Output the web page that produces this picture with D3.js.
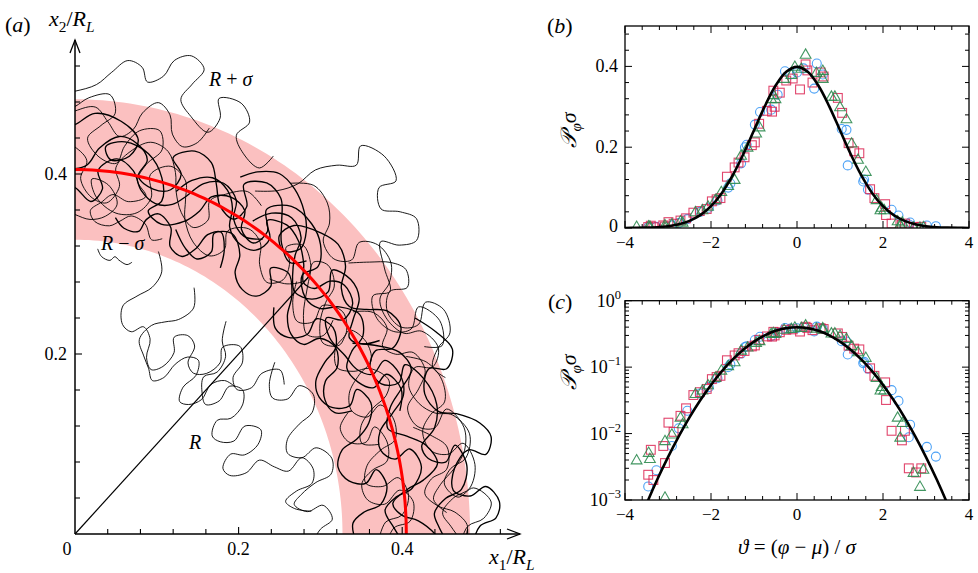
<!DOCTYPE html>
<html><head><meta charset="utf-8">
<script src="https://cdn.jsdelivr.net/npm/d3@7"></script>
<style>
body{margin:0;background:#fff}
text{font-family:"Liberation Serif","Times New Roman",serif;fill:#000}
</style>
</head><body>
<svg id="chart" width="978" height="573"></svg>
<script>
// ---------------- DATA ----------------
// Panel (a): mean radius R and spread sigma (in units of R_L)
const bandR = 0.405;
const bandSigma = 0.078;
const aTickLabels = ["0.2", "0.4"];
const aTickValues = [0.2, 0.4];

// Trajectories, as [angle in degrees, radius]
const traj01 = [[92,.452],[90,.455],[87,.468],[83,.462],[80,.445],[81,.425],[84,.418],[85,.432],[82,.44],[78,.432],[75,.41],[74,.385],[76,.37],[73,.36],[69,.372],[67,.39],[66,.41],[63,.42],[60,.415],[59,.395],[56,.39],[55,.41],[57,.43],[54,.45],[50,.45],[47,.44],[45,.42],[46,.40],[43,.385],[40,.39],[38,.41],[35,.425],[32,.415],[31,.395],[29,.38],[26,.385],[24,.40],[25,.42],[22,.43],[19,.42]];
const traj02 = [[92,.36],[90,.355],[87,.35],[84,.355],[82,.37],[84,.39],[87,.395],[86,.375],[82,.36],[78,.365],[76,.385],[77,.41],[74,.425],[71,.415],[70,.395],[69,.375],[66,.355],[62,.35],[60,.365],[61,.385],[58,.40],[55,.395],[53,.375],[50,.365],[48,.38],[49,.40],[51,.41],[49,.425],[46,.415],[44,.395],[41,.37],[38,.36],[36,.375],[37,.395]];
const traj03 = [[72,.40],[70,.418],[67,.43],[64,.425],[62,.41],[61,.39],[58,.38],[55,.385],[54,.405],[56,.42],[53,.43],[50,.425],[47,.41],[45,.395],[43,.40],[42,.42],[40,.43],[37,.425],[36,.405],[38,.39],[35,.38],[31,.385],[28,.39],[26,.405],[27,.425],[24,.435],[21,.43],[19,.41],[17,.39],[14,.385],[12,.40],[13,.42],[10,.43],[7,.415],[6,.395],[4,.38],[1,.39],[-2,.405]];
const traj04 = [[56,.47],[53,.485],[50,.48],[48,.465],[47,.445],[44,.44],[42,.455],[43,.475],[41,.49],[38,.49],[36,.475],[35,.455],[32,.45],[29,.46],[28,.48],[25,.49],[23,.475],[24,.455],[22,.44],[19,.445],[17,.46],[16,.48],[13,.495],[10,.485],[9,.465],[7,.455],[5,.47],[6,.49],[4,.51],[2,.50],[1,.48],[-2,.47]];
const traj05 = [[46,.35],[43,.335],[40,.34],[38,.36],[39,.38],[36,.39],[33,.38],[32,.36],[30,.34],[27,.335],[24,.345],[23,.365],[25,.38],[22,.39],[19,.38],[17,.36],[16,.34],[13,.33],[10,.34],[9,.36],[11,.375],[8,.385],[5,.375],[4,.355],[2,.34],[-2,.345]];
const traj06 = [[72,.33],[70,.31],[71,.29],[74,.275],[77,.26],[76,.24],[73,.235],[70,.245],[67,.235],[66,.215],[63,.205],[60,.215],[59,.235],[61,.25],[58,.26],[55,.255],[54,.235],[51,.23],[48,.24],[47,.26],[49,.275],[46,.29],[43,.28],[42,.26],[39,.255],[37,.27],[38,.29],[36,.31],[33,.305]];
const traj07 = [[52,.30],[50,.28],[47,.27],[46,.25],[48,.235],[45,.22],[42,.215],[40,.23],[41,.25],[38,.26],[35,.25],[34,.23],[36,.215],[33,.20],[30,.205],[28,.22],[30,.24],[27,.255],[24,.245],[23,.225],[25,.21],[22,.195],[19,.20],[18,.22],[20,.24],[17,.255],[15,.27],[17,.29],[14,.30],[11,.295],[10,.275],[8,.26],[6,.27],[5,.29]];
const traj08 = [[60,.44],[57,.455],[55,.475],[54,.50],[52,.52],[50,.535],[51,.555],[48,.565],[45,.555],[46,.535],[44,.52],[42,.535],[40,.545],[38,.53],[39,.51],[41,.495],[38,.48],[35,.47],[36,.45],[33,.44],[30,.45],[29,.47],[31,.49],[28,.505],[25,.495],[26,.475]];
const traj09 = [[92,.49],[90,.492],[87,.50],[85,.515],[83,.53],[81,.525],[80,.51],[78,.52],[77,.54],[75,.55],[73,.54],[74,.52],[75,.50],[73,.485],[70,.475],[69,.495],[70,.515],[67,.52],[65,.505],[66,.485],[64,.47],[61,.465],[60,.485]];
const traj10 = [[30,.48],[27,.495],[24,.505],[22,.49],[23,.47],[20,.455],[17,.465],[16,.485],[14,.51],[12,.52],[10,.51],[11,.49],[9,.47],[6,.465],[5,.485],[6,.505],[4,.52],[2,.515],[1,.495],[-2,.485]];
const traj11 = [[92,.47],[90,.475],[88,.485],[85,.49],[84,.47],[86,.455],[88,.44],[86,.42],[83,.415],[82,.435],[80,.455],[77,.46],[76,.44],[78,.42],[79,.40],[77,.385],[80,.375],[83,.38],[85,.37],[87,.36],[86,.348],[83,.345],[81,.352],[79,.36],[76,.355],[74,.34],[72,.345]];
const traj12 = [[85,.318],[84,.310],[82,.307],[81,.312],[80,.309],[78,.306],[77,.31]];
const traj13 = [[63,.445],[61,.46],[58,.472],[55,.468],[52,.455],[50,.44],[49,.42],[51,.405],[53,.415],[52,.435],[48,.45],[45,.455],[42,.445],[40,.425],[37,.42],[35,.435],[33,.455],[30,.46],[28,.44],[29,.42],[27,.405],[24,.41],[23,.43],[25,.445],[22,.46],[18,.465],[15,.455],[13,.435],[11,.44],[10,.46],[12,.475],[9,.485],[6,.475],[5,.455],[3,.44],[1,.445],[-2,.46]];
const traj14 = [[38,.31],[35,.29],[32,.285],[30,.30],[31,.32],[28,.33],[25,.32],[24,.30],[22,.28],[19,.275],[17,.29],[18,.31],[15,.325],[12,.32],[11,.30],[9,.28],[7,.27],[5,.285],[6,.305],[3,.315],[1,.30],[-2,.29]];
const traj15 = [[92,.405],[88,.41],[86,.43],[83,.445],[80,.44],[78,.425],[79,.405],[76,.395],[73,.40],[72,.42],[74,.435],[71,.45],[68,.445],[66,.425],[64,.405],[61,.40],[60,.42],[62,.44],[59,.455],[56,.45],[54,.43],[52,.41],[49,.40],[47,.415]];
const traj16 = [[50,.37],[47,.38],[45,.40],[46,.42],[44,.43],[41,.42],[40,.40],[38,.38],[35,.37],[33,.385],[34,.405],[31,.415],[28,.41],[27,.39],[25,.37],[22,.365],[20,.38],[21,.40],[18,.41],[15,.405],[14,.385],[12,.365],[9,.36],[8,.38],[9,.40],[6,.41],[3,.40],[2,.38],[-2,.37]];
const traj17 = [[70,.36],[67,.345],[64,.34],[62,.355],[63,.375],[60,.385],[57,.37],[56,.35],[53,.34],[50,.345],[49,.365],[51,.38],[48,.39],[45,.375],[43,.355],[40,.345],[37,.35],[36,.37],[33,.38],[30,.37],[29,.35],[26,.34],[23,.345],[22,.365]];
const traj18 = [[26,.45],[24,.47],[21,.48],[18,.475],[17,.455],[15,.44],[12,.445],[11,.465],[12,.485],[9,.495],[6,.485],[5,.465],[3,.45],[1,.46],[-2,.48]];
const traj19 = [[62,.31],[60,.29],[62,.27],[65,.26],[68,.25],[70,.23],[67,.215],[64,.205],[61,.195],[58,.205],[57,.225],[55,.24],[52,.245],[50,.23],[51,.21],[49,.195],[46,.20],[44,.215],[45,.235],[43,.25],[40,.255]];
const traj20 = [[42,.45],[40,.47],[38,.49],[36,.50],[34,.49],[35,.47],[33,.455],[30,.46],[29,.48],[31,.50],[29,.515],[26,.51],[25,.49],[23,.475],[21,.485]];
const traj21 = [[93,.39],[90,.385],[87,.37],[85,.385],[86,.405],[83,.42],[80,.41],[78,.39],[75,.38],[72,.385],[70,.40],[68,.42],[65,.43],[62,.42],[61,.40],[58,.39],[55,.40]];
const traj22 = [[93,.44],[90,.43],[88,.415],[89,.395],[87,.375],[84,.37],[82,.39],[83,.41],[81,.43],[78,.445],[75,.44],[73,.42],[72,.40],[70,.38],[67,.37],[65,.385],[66,.405],[64,.42],[61,.435],[58,.43]];
const traj23 = [[32,.40],[30,.42],[27,.445],[24,.45],[22,.43],[20,.41],[17,.40],[15,.42],[13,.44],[10,.45],[8,.43],[7,.41],[5,.39],[3,.40],[2,.42],[0,.44],[-2,.45]];
const traj24 = [[22,.36],[20,.345],[17,.35],[16,.37],[18,.385],[15,.395],[12,.39],[11,.37],[9,.355],[6,.36],[5,.38],[7,.40],[5,.415],[2,.41],[1,.39],[-2,.38]];
const traj25 = [[58,.41],[56,.43],[53,.44],[50,.43],[49,.41],[47,.39],[45,.38],[42,.39],[41,.41],[43,.43],[40,.44],[37,.435],[35,.415],[33,.40],[31,.41],[30,.43]];
const traj26 = [[46,.39],[44,.37],[41,.36],[39,.375],[40,.395],[37,.41],[34,.40],[33,.38],[30,.37],[28,.385],[27,.405],[24,.42],[22,.41],[21,.39],[19,.37],[16,.365],[15,.385]];
const traj27 = [[36,.42],[34,.44],[31,.445],[29,.43],[27,.44],[26,.46],[23,.465],[21,.45],[19,.43],[16,.435],[15,.455],[17,.475],[14,.49],[11,.485],[9,.47],[7,.45],[5,.44],[3,.455]];
const traj28 = [[93,.46],[90,.47],[87,.475],[85,.46],[83,.445],[81,.455],[80,.475],[78,.49],[76,.48],[75,.46],[73,.45],[71,.46],[70,.48]];
const traj29 = [[82,.355],[80,.345],[77,.345],[76,.36],[74,.37],[71,.36],[70,.34],[67,.335],[65,.35],[64,.37],[62,.38],[60,.365],[59,.345]];
const traj30 = [[16,.43],[14,.45],[12,.465],[9,.46],[8,.44],[6,.43],[4,.445],[3,.465],[1,.48],[-2,.47]];
const trajectories = [traj01,traj02,traj03,traj04,traj05,traj06,traj07,traj08,traj09,traj10,traj11,traj12,traj13,traj14,traj15,traj16,traj17,traj18,traj19,traj20,traj21,traj22,traj23,traj24,traj25,traj26,traj27,traj28,traj29,traj30];
const trajWidths = [1.35,0.9,1.35,0.9,1.35,0.9,0.9,0.9,0.9,1.35,0.9,0.9,1.35,0.9,1.35,0.9,1.35,0.9,0.9,0.9,1.35,0.9,1.35,0.9,1.35,0.9,0.9,0.9,1.35,0.9];

// Panels (b),(c): normalised PDF samples [theta, P*sigma]
const redSquares = [[-3.46,.0024],[-3.40,.0057],[-3.34,.0020],[-3.11,.0065],[-3.07,.0036],[-2.99,.0146],[-2.87,.0106],[-2.71,.0185],[-2.58,.024],[-2.41,.038],[-2.26,.042],[-2.10,.047],[-1.98,.066],[-1.87,.071],[-1.78,.074],[-1.63,.127],[-1.45,.150],[-1.36,.162],[-1.22,.175],[-1.05,.205],[-0.98,.212],[-0.88,.258],[-0.70,.290],[-0.58,.288],[-0.52,.300],[-0.55,.340],[-0.40,.335],[-0.25,.365],[-0.10,.370],[0.07,.343],[0.20,.405],[0.24,.390],[0.36,.360],[0.55,.385],[0.62,.375],[0.95,.322],[1.05,.285],[1.20,.210],[1.33,.190],[1.45,.185],[1.70,.096],[1.80,.074],[2.05,.059],[2.07,.032],[2.20,.011],[2.44,.0079],[2.51,.011],[2.60,.0030],[2.77,.0026],[2.89,.0030]];
const blueCircles = [[-3.46,.0016],[-3.27,.0028],[-2.91,.0065],[-2.75,.012],[-2.55,.022],[-2.25,.040],[-2.05,.050],[-1.85,.068],[-1.60,.100],[-1.55,.110],[-1.30,.160],[-1.21,.200],[-1.17,.206],[-0.98,.256],[-0.86,.287],[-0.60,.293],[-0.45,.330],[-0.28,.388],[-0.15,.380],[0.00,.385],[0.15,.395],[0.40,.345],[0.46,.407],[0.60,.380],[1.04,.245],[1.15,.243],[1.18,.155],[1.54,.115],[1.56,.120],[1.65,.095],[2.20,.045],[2.36,.031],[2.63,.0136],[2.60,.0088],[3.02,.0063],[3.23,.0045]];
const greenTriangles = [[-3.73,.0040],[-3.45,.0052],[-3.42,.0042],[-3.07,.0011],[-3.07,.0078],[-2.91,.0098],[-2.71,.0175],[-2.66,.014],[-2.36,.040],[-2.20,.045],[-2.07,.054],[-1.90,.070],[-1.76,.090],[-1.60,.105],[-1.45,.120],[-1.30,.180],[-1.15,.200],[-0.95,.235],[-0.87,.250],[-0.60,.320],[-0.50,.320],[-0.55,.330],[-0.30,.370],[-0.13,.380],[-0.05,.400],[0.10,.395],[0.20,.430],[0.45,.385],[0.60,.370],[0.60,.390],[0.80,.326],[0.88,.326],[1.00,.300],[1.15,.270],[1.27,.210],[1.42,.170],[1.60,.140],[1.85,.070],[1.94,.045],[1.97,.051],[2.03,.045],[2.34,.0176],[2.45,.0146],[2.40,.0088],[2.71,.0026],[2.86,.0016],[2.94,.0029]];
// Gaussian reference curve (standard normal), tabulated
const gaussTheta = [-4,-3.75,-3.5,-3.25,-3,-2.75,-2.5,-2.25,-2,-1.75,-1.5,-1.25,-1,-0.75,-0.5,-0.25,0,0.25,0.5,0.75,1,1.25,1.5,1.75,2,2.25,2.5,2.75,3,3.25,3.5,3.75,4];
const gaussP = [0.00013,0.00035,0.00087,0.00203,0.00443,0.00909,0.01753,0.03174,0.05399,0.08628,0.12952,0.18265,0.24197,0.30114,0.35207,0.38667,0.39894,0.38667,0.35207,0.30114,0.24197,0.18265,0.12952,0.08628,0.05399,0.03174,0.01753,0.00909,0.00443,0.00203,0.00087,0.00035,0.00013];
const thetaTicks = [-4,-2,0,2,4];
const linTicks = [0,0.2,0.4];
const logTicks = [1e-3,1e-2,1e-1,1];
const logTickExp = ["−3","−2","−1","0"];

// ---------------- DRAW ----------------
const svg = d3.select("#chart");
const defs = svg.append("defs");
const rad = Math.PI/180;
const toXY = p => [p[1]*Math.cos(p[0]*rad), p[1]*Math.sin(p[0]*rad)];

// ===== Panel (a) =====
const xa = d3.scaleLinear().domain([0,0.55]).range([75, 75+0.55*818]);
const ya = d3.scaleLinear().domain([0,0.55]).range([534, 534-0.55*900]);
const ga = svg.append("g");
defs.append("clipPath").attr("id","clipA")
  .append("rect").attr("x",xa(0)).attr("y",0).attr("width",978).attr("height",ya(0));

const angles = d3.range(0, 90.01, 1);
const lineA = d3.line().x(d=>xa(d[0])).y(d=>ya(d[1]));
const outer = angles.map(a=>toXY([a,bandR+bandSigma]));
const inner = angles.slice().reverse().map(a=>toXY([a,bandR-bandSigma]));
ga.append("path").attr("d", lineA(outer.concat(inner))+"Z")
  .attr("fill","#fbc0c0").attr("stroke","none");

const trajLine = d3.line().x(d=>xa(d[0])).y(d=>ya(d[1])).curve(d3.curveCatmullRom.alpha(0.5));
const gt = ga.append("g").attr("clip-path","url(#clipA)");
trajectories.forEach((t,i)=>{
  gt.append("path").attr("d", trajLine(t.map(toXY)))
    .attr("fill","none").attr("stroke","#000").attr("stroke-width",trajWidths[i])
    .attr("stroke-linejoin","round");
});

ga.append("line").attr("x1",xa(0)).attr("y1",ya(0))
  .attr("x2",xa(bandR*Math.cos(45*rad))).attr("y2",ya(bandR*Math.sin(45*rad)))
  .attr("stroke","#000").attr("stroke-width",1.2);
ga.append("path").attr("d", lineA(angles.map(a=>toXY([a,bandR]))))
  .attr("fill","none").attr("stroke","#ff0000").attr("stroke-width",3);

const axA = ga.append("g").attr("stroke","#000").attr("fill","none");
axA.append("line").attr("x1",xa(0)).attr("y1",ya(0)).attr("x2",520).attr("y2",ya(0)).attr("stroke-width",1.5);
axA.append("line").attr("x1",xa(0)).attr("y1",ya(0)).attr("x2",xa(0)).attr("y2",40).attr("stroke-width",1.5);
axA.append("path").attr("d",`M${xa(0)-5},53L${xa(0)},40L${xa(0)+5},53`).attr("stroke-width",1.3);
axA.append("path").attr("d",`M507,${ya(0)-5}L520,${ya(0)}L507,${ya(0)+5}`).attr("stroke-width",1.3);
d3.range(0.04, 0.53, 0.04).forEach(v=>{
  const L = (Math.abs(v-0.2)<1e-6||Math.abs(v-0.4)<1e-6)?7:5;
  axA.append("line").attr("x1",xa(v)).attr("x2",xa(v)).attr("y1",ya(0)).attr("y2",ya(0)-L).attr("stroke-width",1.1);
  axA.append("line").attr("y1",ya(v)).attr("y2",ya(v)).attr("x1",xa(0)).attr("x2",xa(0)+L).attr("stroke-width",1.1);
});
aTickValues.forEach((v,i)=>{
  ga.append("text").attr("x",xa(v)).attr("y",555).attr("text-anchor","middle").attr("font-size",18).text(aTickLabels[i]);
  ga.append("text").attr("x",67).attr("y",ya(v)+6).attr("text-anchor","end").attr("font-size",18).text(aTickLabels[i]);
});
ga.append("text").attr("x",67).attr("y",555).attr("text-anchor","middle").attr("font-size",18).text("0");

function mathText(g, x, y, parts, size, anchor){
  const t = g.append("text").attr("x",x).attr("y",y).attr("font-size",size).attr("text-anchor",anchor||"start");
  parts.forEach(p=>{
    const s = t.append("tspan").text(p.t);
    if(p.i) s.attr("font-style","italic");
    if(p.sub){ s.attr("font-size",size*0.7).attr("dy",size*0.25); }
    if(p.back) s.attr("dy",p.back);
  });
  return t;
}
mathText(svg, 5, 32, [{t:"("},{t:"a",i:1},{t:")"}], 22);
mathText(svg, 49, 26, [{t:"x",i:1},{t:"2",sub:1},{t:"/",back:-5.5},{t:"R",i:1},{t:"L",i:1,sub:1}], 22);
mathText(svg, 489, 564, [{t:"x",i:1},{t:"1",sub:1},{t:"/",back:-5.5},{t:"R",i:1},{t:"L",i:1,sub:1}], 22);
mathText(svg, 209, 86, [{t:"R",i:1},{t:" + "},{t:"σ",i:1}], 20);
mathText(svg, 101, 250, [{t:"R",i:1},{t:" − "},{t:"σ",i:1}], 20);
mathText(svg, 189, 449, [{t:"R",i:1}], 20);

// ===== Panels (b) and (c) =====
const xb = d3.scaleLinear().domain([-4,4]).range([625,969]);
const yb = d3.scaleLinear().domain([0,0.5]).range([228,26]);
const yc = d3.scaleLog().domain([1e-3,1]).range([500,300.7]);

function drawPanel(y, top, bottom, isLog){
  const g = svg.append("g");
  const cid = isLog?"clipC":"clipB";
  defs.append("clipPath").attr("id",cid)
    .append("rect").attr("x",625).attr("y",top).attr("width",344).attr("height",bottom-top);
  const tk = g.append("g").attr("stroke","#000").attr("stroke-width",1);
  d3.range(-4, 4.001, 0.4).forEach(v=>{
    const major = thetaTicks.some(t=>Math.abs(t-v)<1e-6);
    const L = major?7:4;
    tk.append("line").attr("x1",xb(v)).attr("x2",xb(v)).attr("y1",bottom).attr("y2",bottom-L);
    tk.append("line").attr("x1",xb(v)).attr("x2",xb(v)).attr("y1",top).attr("y2",top+L);
  });
  let yt;
  if(isLog){
    yt = [];
    [-3,-2,-1].forEach(e=>{ for(let k=1;k<10;k++) yt.push([k*Math.pow(10,e), k===1]); });
    yt.push([1,true]);
  } else {
    yt = d3.range(0, 0.5, 0.04).map(v=>[v, linTicks.some(t=>Math.abs(t-v)<1e-6)]);
  }
  yt.forEach(([v,major])=>{
    const L = major?7:4;
    tk.append("line").attr("y1",y(v)).attr("y2",y(v)).attr("x1",625).attr("x2",625+L);
    tk.append("line").attr("y1",y(v)).attr("y2",y(v)).attr("x1",969).attr("x2",969-L);
  });
  const gd = g.append("g").attr("clip-path",`url(#${cid})`);
  const xy = d => [xb(d[0]), y(d[1])];
  blueCircles.forEach(d=>{ const [px,py]=xy(d);
    gd.append("circle").attr("cx",px).attr("cy",py).attr("r",4.5)
      .attr("fill","none").attr("stroke","#3a98f5").attr("stroke-width",1.1).attr("stroke-opacity",0.9); });
  redSquares.forEach(d=>{ const [px,py]=xy(d);
    gd.append("rect").attr("x",px-4.4).attr("y",py-4.4).attr("width",8.8).attr("height",8.8)
      .attr("fill","none").attr("stroke","#dc2452").attr("stroke-width",1.1).attr("stroke-opacity",0.85); });
  const tri = d3.symbol().type(d3.symbolTriangle).size(50);
  greenTriangles.forEach(d=>{ const [px,py]=xy(d);
    gd.append("path").attr("d",tri()).attr("transform",`translate(${px},${py+0.8})`)
      .attr("fill","none").attr("stroke","#2e8b50").attr("stroke-width",1.1).attr("stroke-opacity",0.9); });
  const gl = d3.line().x(d=>xb(d[0])).y(d=>y(d[1])).curve(d3.curveCatmullRom.alpha(0.5));
  gd.append("path").attr("d", gl(gaussTheta.map((t,i)=>[t,gaussP[i]])))
    .attr("fill","none").attr("stroke","#000").attr("stroke-width",2.6);
  g.append("rect").attr("x",625).attr("y",top).attr("width",344).attr("height",bottom-top)
    .attr("fill","none").attr("stroke","#000").attr("stroke-width",1.3);
  thetaTicks.forEach(t=>{
    g.append("text").attr("x",xb(t)).attr("y",bottom+20).attr("text-anchor","middle").attr("font-size",17)
      .text(t<0?"−"+Math.abs(t):String(t));
  });
  if(isLog){
    logTicks.forEach((v,i)=>{
      const t = g.append("text").attr("x",621).attr("y",y(v)+6).attr("text-anchor","end").attr("font-size",18);
      t.append("tspan").text("10");
      t.append("tspan").text(logTickExp[i]).attr("font-size",12.5).attr("dy",-8);
    });
  } else {
    linTicks.forEach(v=>{
      g.append("text").attr("x",618).attr("y",y(v)+(v===0?4:6)).attr("text-anchor","end").attr("font-size",18)
        .text(v===0?"0":v.toFixed(1));
    });
  }
  return g;
}
drawPanel(yb, 26, 228, false);
drawPanel(yc, 300.7, 500, true);

function yTitle(cy){
  const t = svg.append("text").attr("transform",`translate(576,${cy}) rotate(-90)`)
    .attr("text-anchor","middle").attr("font-size",22);
  t.append("tspan").text("𝒫").attr("font-family","DejaVu Serif, DejaVu Sans, serif").attr("font-style","italic");
  t.append("tspan").text("φ").attr("font-style","italic").attr("font-size",15).attr("dy",5);
  t.append("tspan").text("σ").attr("font-style","italic").attr("dy",-5);
}
yTitle(130);
yTitle(372);
mathText(svg, 547, 33, [{t:"("},{t:"b",i:1},{t:")"}], 22);
mathText(svg, 548, 309, [{t:"("},{t:"c",i:1},{t:")"}], 22);
mathText(svg, 797, 554, [{t:"ϑ",i:1},{t:" = ("},{t:"φ",i:1},{t:" − "},{t:"μ",i:1},{t:") / "},{t:"σ",i:1}], 21, "middle");
</script>
</body></html>
